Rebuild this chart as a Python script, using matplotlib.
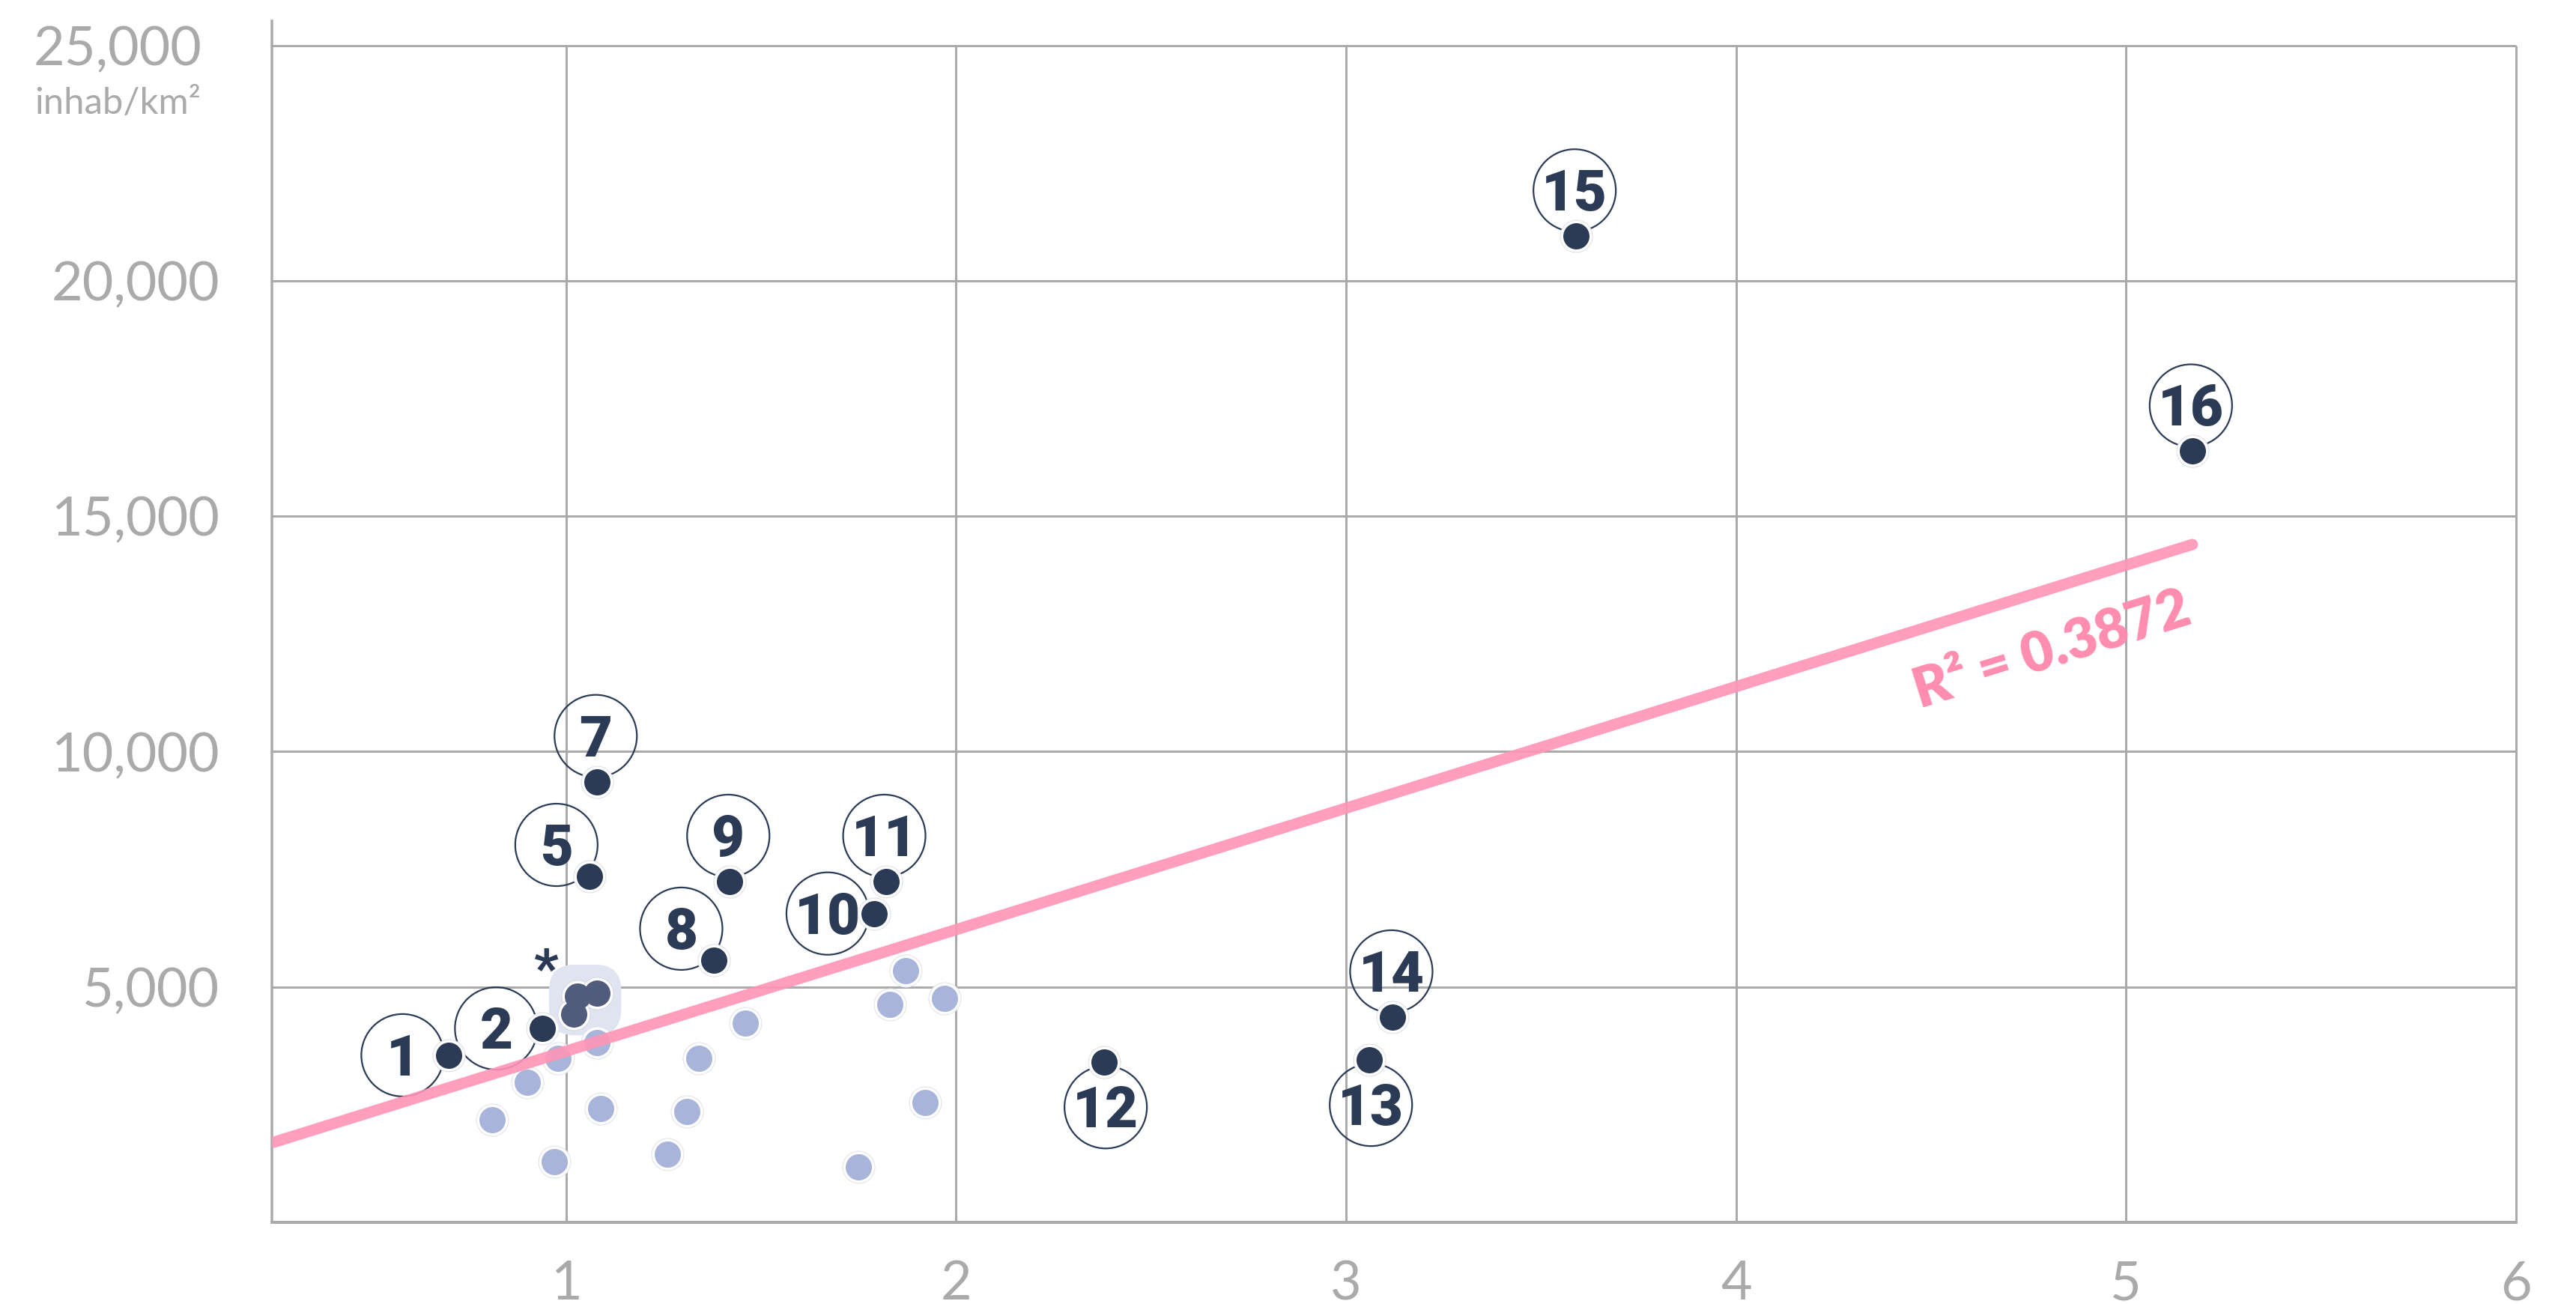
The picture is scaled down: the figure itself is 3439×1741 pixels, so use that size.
import numpy as np
import matplotlib.pyplot as plt
from matplotlib.patches import FancyBboxPatch
from matplotlib.transforms import ScaledTranslation

# numbered cities (dark dots)
num_labels = ['1', '2', '5', '7', '8', '9', '10', '11', '12', '13', '14', '15', '16']
num_x = [0.70, 0.94, 1.06, 1.08, 1.38, 1.42, 1.79, 1.82, 2.38, 3.06, 3.12, 3.59, 5.17]
num_y = [3550, 4120, 7350, 9360, 5570, 7240, 6560, 7240, 3400, 3450, 4360, 20950, 16380]

# cities 3, 4 and 6, grouped under the asterisk
star_x = [1.03, 1.08, 1.02]
star_y = [4800, 4870, 4420]

# remaining cities (light dots)
other_x = [1.87, 1.83, 1.97, 1.46, 1.34, 1.08, 0.98, 0.90, 0.81, 1.09, 1.31, 1.92, 0.97, 1.26, 1.75]
other_y = [5350, 4630, 4760, 4230, 3490, 3820, 3490, 2970, 2180, 2420, 2350, 2550, 1290, 1450, 1170]

# linear trend as drawn on the chart
trend_x = [0.25, 5.17]
trend_y = [1700, 14400]
r2 = 0.3872

x_ticks = [1, 2, 3, 4, 5, 6]
y_ticks = [5000, 10000, 15000, 20000, 25000]
y_unit = 'inhab/km²'

# where each number bubble sits relative to its dot
label_side = {'1': 'left', '2': 'left', '5': 'upleft', '7': 'up', '8': 'upleft',
              '9': 'up', '10': 'left', '11': 'up', '12': 'down', '13': 'down',
              '14': 'up', '15': 'up', '16': 'up'}
side_offset = {'left': (-62, 0), 'upleft': (-44, 42), 'up': (-2, 61), 'down': (2, -60)}

GRID = '#aaaaaa'
DARK = '#2b3a55'
LIGHT = '#a8b4da'
GROUP = '#515b7b'
HILITE = '#e0e4f1'
PINK = '#ff95b6'
PX = 0.72  # points per pixel at dpi 100

W, H = 3439, 1741
fig = plt.figure(figsize=(W / 100, H / 100), dpi=100)
ax = fig.add_axes([363 / W, 109 / H, (3359 - 363) / W, (1632 - 28) / H])
ax.set_xlim(0.246, 6)
ax.set_ylim(0, 25520)

# grid and axes
ax.hlines(y_ticks, 0.246, 6, color=GRID, lw=3 * PX, zorder=1, clip_on=False)
ax.vlines(x_ticks, 0, 25000, color=GRID, lw=3 * PX, zorder=1, clip_on=False)
for s in ['top', 'right']:
    ax.spines[s].set_visible(False)
ax.spines['left'].set_color(GRID)
ax.spines['left'].set_linewidth(3.5 * PX)
ax.spines['bottom'].set_color(GRID)
ax.spines['bottom'].set_linewidth(4 * PX)

ax.set_xticks(x_ticks)
ax.set_xticklabels([str(v) for v in x_ticks])
ax.set_yticks(y_ticks)
ax.set_yticklabels([f'{v:,}' for v in y_ticks])
ax.tick_params(length=0, colors=GRID, labelsize=72 * PX)
ax.tick_params(axis='x', pad=50 * PX)
ax.tick_params(axis='y', pad=70 * PX)
for lab in ax.get_xticklabels() + ax.get_yticklabels():
    lab.set_family(['Lato', 'DejaVu Sans'])
top_lab = ax.get_yticklabels()[-1]
top_lab.set_transform(top_lab.get_transform() + ScaledTranslation(-24 / 100, 0, fig.dpi_scale_trans))
fig.text(268 / W, 1 - 152 / H, y_unit, ha='right', va='baseline', color=GRID,
         fontsize=49 * PX, family=['Lato', 'DejaVu Sans'])


def shift(x, y, dx, dy):
    px, py = ax.transData.transform((x, y))
    return ax.transData.inverted().transform((px + dx, py + dy))


# highlight behind the grouped cities
sx, sy = ax.transData.transform(np.column_stack([star_x, star_y])).T
bx0, bx1 = sx.min() - 33, sx.max() + 32
by0, by1 = sy.min() - 28, sy.max() + 38
(dx0, dy0), (dx1, dy1) = ax.transData.inverted().transform([[bx0, by0], [bx1, by1]])
aspect = (dy1 - dy0) / (by1 - by0) / ((dx1 - dx0) / (bx1 - bx0))
rnd = 34 * (dx1 - dx0) / (bx1 - bx0)
ax.add_patch(FancyBboxPatch((dx0, dy0), dx1 - dx0, dy1 - dy0,
                            boxstyle=f'round,pad=0,rounding_size={rnd}',
                            mutation_aspect=aspect, fc=HILITE, ec='none', zorder=2))
ax.text(*shift(dx0, dy1, -5, -30), '*', ha='center', va='baseline', color=DARK,
        fontsize=72 * PX, fontweight='bold', family=['Roboto', 'DejaVu Sans'], zorder=7)

# dots: white ring with a faint edge, then the dot itself
ring = (43 * PX) ** 2
dot = (35 * PX) ** 2
ax.scatter(other_x, other_y, s=ring, c='white', edgecolors='#e2e5ee', linewidths=0.8, zorder=3)
ax.scatter(other_x, other_y, s=dot, c=LIGHT, linewidths=0, zorder=3.1)
ax.scatter(star_x, star_y, s=ring, c='white', edgecolors='#d5d9e4', linewidths=0.8, zorder=5)
ax.scatter(star_x, star_y, s=dot, c=GROUP, linewidths=0, zorder=5.1)

# number bubbles
for lab, x, y in zip(num_labels, num_x, num_y):
    ox, oy = side_offset[label_side[lab]]
    cx, cy = shift(x, y, ox, oy)
    ax.scatter([cx], [cy], s=(110 * PX) ** 2, facecolors='none', edgecolors=DARK,
               linewidths=2.2 * PX, zorder=4)
    tx, ty = shift(x, y, ox, oy - 27)
    ax.text(tx, ty, lab, ha='center', va='baseline', color=DARK, fontsize=76 * PX,
            fontweight='heavy', family=['Roboto', 'DejaVu Sans'], zorder=7)
ax.scatter(num_x, num_y, s=ring, c='white', edgecolors='#dfe2ea', linewidths=0.8, zorder=5)
ax.scatter(num_x, num_y, s=dot, c=DARK, linewidths=0, zorder=5.1)

# trend line and R² label
ax.plot(trend_x, trend_y, color=PINK, lw=15 * PX, solid_capstyle='round', alpha=0.9, zorder=6)
p0 = ax.transData.transform((trend_x[0], trend_y[0]))
p1 = ax.transData.transform((trend_x[1], trend_y[1]))
angle = np.degrees(np.arctan2(p1[1] - p0[1], p1[0] - p0[0]))
ax.text(4.81, 12150, f'R² = {r2}', rotation=angle, rotation_mode='anchor',
        ha='center', va='center', color='#ff8db0', fontsize=74 * PX, fontweight='heavy',
        family=['Lato', 'DejaVu Sans'], zorder=8)

fig.savefig('out.png', dpi=100, facecolor='white')
